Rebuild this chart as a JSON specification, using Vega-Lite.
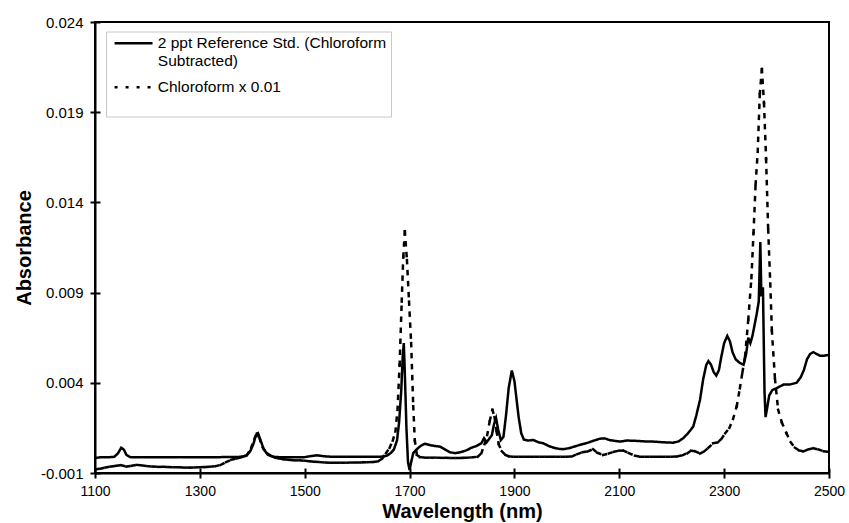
{
  "$schema": "https://vega.github.io/schema/vega-lite/v6.json",
  "autosize": "none",
  "width": 734,
  "height": 451,
  "padding": {"left": 95, "top": 22, "right": 20, "bottom": 50},
  "background": "white",
  "config": {
    "font": "Liberation Sans",
    "view": {"stroke": "black", "strokeWidth": 2},
    "axis": {
      "domainColor": "black", "domainWidth": 2,
      "tickColor": "black", "tickWidth": 2, "tickSize": 5,
      "labelColor": "black", "labelFont": "Liberation Sans",
      "titleColor": "black", "titleFont": "Liberation Sans",
      "grid": false
    }
  },
  "datasets": {
    "ref": [
      {"wl": 1100, "abs": -0.00017}, {"wl": 1110, "abs": -0.00013}, {"wl": 1125, "abs": -0.00013},
      {"wl": 1137, "abs": -0.0001}, {"wl": 1144, "abs": 0.0001}, {"wl": 1150, "abs": 0.0004},
      {"wl": 1155, "abs": 0.0003}, {"wl": 1160, "abs": 0.0}, {"wl": 1167, "abs": -0.00012},
      {"wl": 1180, "abs": -0.00013}, {"wl": 1220, "abs": -0.00013}, {"wl": 1260, "abs": -0.00012},
      {"wl": 1300, "abs": -0.00013}, {"wl": 1340, "abs": -0.00012}, {"wl": 1375, "abs": -0.00011},
      {"wl": 1388, "abs": -0.00005}, {"wl": 1396, "abs": 0.0002}, {"wl": 1402, "abs": 0.0006},
      {"wl": 1407, "abs": 0.0011}, {"wl": 1411, "abs": 0.0012}, {"wl": 1416, "abs": 0.0008},
      {"wl": 1422, "abs": 0.0003}, {"wl": 1430, "abs": 0.0}, {"wl": 1440, "abs": -0.0001},
      {"wl": 1455, "abs": -0.00013}, {"wl": 1480, "abs": -0.00013}, {"wl": 1500, "abs": -0.00012},
      {"wl": 1512, "abs": -0.00006}, {"wl": 1524, "abs": -0.00002}, {"wl": 1536, "abs": -0.00007},
      {"wl": 1550, "abs": -0.0001}, {"wl": 1580, "abs": -0.0001}, {"wl": 1620, "abs": -0.0001},
      {"wl": 1645, "abs": -0.0001}, {"wl": 1656, "abs": -0.00005}, {"wl": 1664, "abs": 0.0001},
      {"wl": 1670, "abs": 0.0003}, {"wl": 1676, "abs": 0.0008}, {"wl": 1680, "abs": 0.0018},
      {"wl": 1684, "abs": 0.0035}, {"wl": 1687, "abs": 0.0055}, {"wl": 1689, "abs": 0.0062},
      {"wl": 1691, "abs": 0.0045}, {"wl": 1694, "abs": 0.0015}, {"wl": 1697, "abs": -0.0004},
      {"wl": 1700, "abs": -0.00083}, {"wl": 1703, "abs": -0.0004}, {"wl": 1707, "abs": 0.0001},
      {"wl": 1713, "abs": 0.0003}, {"wl": 1721, "abs": 0.0005}, {"wl": 1729, "abs": 0.00062},
      {"wl": 1738, "abs": 0.00055}, {"wl": 1748, "abs": 0.0005}, {"wl": 1758, "abs": 0.00046},
      {"wl": 1768, "abs": 0.0003}, {"wl": 1777, "abs": 0.00015}, {"wl": 1787, "abs": 0.0001},
      {"wl": 1797, "abs": 0.00015}, {"wl": 1808, "abs": 0.00025}, {"wl": 1818, "abs": 0.0004},
      {"wl": 1828, "abs": 0.0005}, {"wl": 1837, "abs": 0.00065}, {"wl": 1842, "abs": 0.00093},
      {"wl": 1847, "abs": 0.0007}, {"wl": 1852, "abs": 0.0009}, {"wl": 1857, "abs": 0.0011},
      {"wl": 1861, "abs": 0.0017}, {"wl": 1865, "abs": 0.00204}, {"wl": 1869, "abs": 0.0014},
      {"wl": 1874, "abs": 0.00083}, {"wl": 1879, "abs": 0.001}, {"wl": 1884, "abs": 0.0022},
      {"wl": 1889, "abs": 0.0037}, {"wl": 1895, "abs": 0.00468}, {"wl": 1900, "abs": 0.0041},
      {"wl": 1904, "abs": 0.0031}, {"wl": 1908, "abs": 0.0021}, {"wl": 1913, "abs": 0.0012},
      {"wl": 1918, "abs": 0.00085}, {"wl": 1926, "abs": 0.0008}, {"wl": 1936, "abs": 0.00083},
      {"wl": 1946, "abs": 0.0007}, {"wl": 1955, "abs": 0.00065}, {"wl": 1965, "abs": 0.0005},
      {"wl": 1975, "abs": 0.0004}, {"wl": 1985, "abs": 0.00034}, {"wl": 1993, "abs": 0.00032},
      {"wl": 2005, "abs": 0.00038}, {"wl": 2018, "abs": 0.0005}, {"wl": 2030, "abs": 0.0006},
      {"wl": 2040, "abs": 0.00068}, {"wl": 2052, "abs": 0.0008}, {"wl": 2063, "abs": 0.0009},
      {"wl": 2072, "abs": 0.00092}, {"wl": 2082, "abs": 0.00082}, {"wl": 2092, "abs": 0.00078},
      {"wl": 2101, "abs": 0.00074}, {"wl": 2115, "abs": 0.0008}, {"wl": 2133, "abs": 0.00078},
      {"wl": 2150, "abs": 0.00075}, {"wl": 2165, "abs": 0.00074}, {"wl": 2185, "abs": 0.0007},
      {"wl": 2203, "abs": 0.00068}, {"wl": 2213, "abs": 0.00075}, {"wl": 2222, "abs": 0.00093},
      {"wl": 2231, "abs": 0.0012}, {"wl": 2241, "abs": 0.00157}, {"wl": 2247, "abs": 0.0022},
      {"wl": 2254, "abs": 0.00306}, {"wl": 2260, "abs": 0.0042}, {"wl": 2266, "abs": 0.005},
      {"wl": 2270, "abs": 0.0052}, {"wl": 2275, "abs": 0.005}, {"wl": 2280, "abs": 0.0046},
      {"wl": 2285, "abs": 0.0044}, {"wl": 2290, "abs": 0.0047}, {"wl": 2295, "abs": 0.0055},
      {"wl": 2300, "abs": 0.0062}, {"wl": 2306, "abs": 0.0066}, {"wl": 2311, "abs": 0.0063},
      {"wl": 2316, "abs": 0.0057}, {"wl": 2322, "abs": 0.0053}, {"wl": 2330, "abs": 0.0051},
      {"wl": 2337, "abs": 0.005}, {"wl": 2342, "abs": 0.0056}, {"wl": 2346, "abs": 0.0065},
      {"wl": 2350, "abs": 0.0062}, {"wl": 2354, "abs": 0.0066}, {"wl": 2358, "abs": 0.0072},
      {"wl": 2362, "abs": 0.0078}, {"wl": 2366, "abs": 0.0085}, {"wl": 2369, "abs": 0.0118},
      {"wl": 2371, "abs": 0.0088}, {"wl": 2374, "abs": 0.0093}, {"wl": 2377, "abs": 0.0035},
      {"wl": 2379, "abs": 0.0021}, {"wl": 2382, "abs": 0.0026}, {"wl": 2386, "abs": 0.0033},
      {"wl": 2392, "abs": 0.0036}, {"wl": 2400, "abs": 0.0037}, {"wl": 2413, "abs": 0.0039},
      {"wl": 2425, "abs": 0.0039}, {"wl": 2438, "abs": 0.004}, {"wl": 2446, "abs": 0.0043},
      {"wl": 2452, "abs": 0.0047}, {"wl": 2458, "abs": 0.0053}, {"wl": 2464, "abs": 0.0056},
      {"wl": 2470, "abs": 0.0057}, {"wl": 2476, "abs": 0.0056}, {"wl": 2483, "abs": 0.0055},
      {"wl": 2490, "abs": 0.0055}, {"wl": 2500, "abs": 0.00555}
    ],
    "chl": [
      {"wl": 1100, "abs": -0.0008}, {"wl": 1110, "abs": -0.00076}, {"wl": 1120, "abs": -0.0007},
      {"wl": 1130, "abs": -0.00064}, {"wl": 1140, "abs": -0.0006}, {"wl": 1150, "abs": -0.00057},
      {"wl": 1160, "abs": -0.00064}, {"wl": 1170, "abs": -0.0006}, {"wl": 1180, "abs": -0.00055},
      {"wl": 1190, "abs": -0.00058}, {"wl": 1200, "abs": -0.00062}, {"wl": 1210, "abs": -0.00064},
      {"wl": 1220, "abs": -0.00066}, {"wl": 1230, "abs": -0.00066}, {"wl": 1240, "abs": -0.00067},
      {"wl": 1250, "abs": -0.00068}, {"wl": 1260, "abs": -0.00068}, {"wl": 1270, "abs": -0.0007},
      {"wl": 1280, "abs": -0.0007}, {"wl": 1290, "abs": -0.00069}, {"wl": 1300, "abs": -0.00068},
      {"wl": 1310, "abs": -0.00067}, {"wl": 1320, "abs": -0.00065}, {"wl": 1330, "abs": -0.00062},
      {"wl": 1340, "abs": -0.00055}, {"wl": 1350, "abs": -0.0004}, {"wl": 1360, "abs": -0.00027},
      {"wl": 1370, "abs": -0.0002}, {"wl": 1380, "abs": -0.00012}, {"wl": 1390, "abs": 0.0},
      {"wl": 1398, "abs": 0.0004}, {"wl": 1404, "abs": 0.0009}, {"wl": 1409, "abs": 0.0012},
      {"wl": 1414, "abs": 0.0009}, {"wl": 1420, "abs": 0.0004}, {"wl": 1428, "abs": 0.0001},
      {"wl": 1436, "abs": -0.00005}, {"wl": 1444, "abs": -0.00015}, {"wl": 1452, "abs": -0.0002},
      {"wl": 1460, "abs": -0.00024}, {"wl": 1470, "abs": -0.00027}, {"wl": 1480, "abs": -0.0003},
      {"wl": 1490, "abs": -0.0003}, {"wl": 1500, "abs": -0.00032}, {"wl": 1510, "abs": -0.00035},
      {"wl": 1520, "abs": -0.00038}, {"wl": 1530, "abs": -0.0004}, {"wl": 1540, "abs": -0.00042},
      {"wl": 1550, "abs": -0.00043}, {"wl": 1560, "abs": -0.00043}, {"wl": 1570, "abs": -0.00043},
      {"wl": 1580, "abs": -0.00043}, {"wl": 1590, "abs": -0.00042}, {"wl": 1600, "abs": -0.00042},
      {"wl": 1610, "abs": -0.00041}, {"wl": 1620, "abs": -0.0004}, {"wl": 1630, "abs": -0.00039},
      {"wl": 1640, "abs": -0.00035}, {"wl": 1648, "abs": -0.0002}, {"wl": 1655, "abs": 0.0001},
      {"wl": 1662, "abs": 0.0004}, {"wl": 1668, "abs": 0.0008}, {"wl": 1673, "abs": 0.0013},
      {"wl": 1677, "abs": 0.0025}, {"wl": 1681, "abs": 0.005}, {"wl": 1685, "abs": 0.0085},
      {"wl": 1688, "abs": 0.011}, {"wl": 1691, "abs": 0.0124}, {"wl": 1695, "abs": 0.0108},
      {"wl": 1699, "abs": 0.0085}, {"wl": 1703, "abs": 0.0062}, {"wl": 1707, "abs": 0.0027},
      {"wl": 1710, "abs": 0.0008}, {"wl": 1714, "abs": 0.0}, {"wl": 1720, "abs": -0.00012},
      {"wl": 1730, "abs": -0.00015}, {"wl": 1740, "abs": -0.00015}, {"wl": 1750, "abs": -0.00015},
      {"wl": 1760, "abs": -0.00016}, {"wl": 1770, "abs": -0.00016}, {"wl": 1780, "abs": -0.00017},
      {"wl": 1790, "abs": -0.00017}, {"wl": 1800, "abs": -0.00016}, {"wl": 1810, "abs": -0.00015},
      {"wl": 1820, "abs": -0.00013}, {"wl": 1830, "abs": -0.0001}, {"wl": 1837, "abs": 0.0001},
      {"wl": 1843, "abs": 0.0006}, {"wl": 1848, "abs": 0.0011}, {"wl": 1853, "abs": 0.0019},
      {"wl": 1858, "abs": 0.0025}, {"wl": 1862, "abs": 0.0021}, {"wl": 1866, "abs": 0.0013},
      {"wl": 1870, "abs": 0.0006}, {"wl": 1876, "abs": 0.0002}, {"wl": 1883, "abs": 0.0},
      {"wl": 1890, "abs": -0.00008}, {"wl": 1900, "abs": -0.0001}, {"wl": 1910, "abs": -0.0001},
      {"wl": 1920, "abs": -0.0001}, {"wl": 1930, "abs": -0.0001}, {"wl": 1940, "abs": -0.0001},
      {"wl": 1950, "abs": -0.0001}, {"wl": 1960, "abs": -0.0001}, {"wl": 1970, "abs": -0.0001},
      {"wl": 1980, "abs": -0.0001}, {"wl": 1990, "abs": -0.0001}, {"wl": 2000, "abs": -0.0001},
      {"wl": 2010, "abs": -0.00008}, {"wl": 2020, "abs": 0.00005}, {"wl": 2030, "abs": 0.00015},
      {"wl": 2040, "abs": 0.0002}, {"wl": 2050, "abs": 0.00032}, {"wl": 2058, "abs": 0.00012},
      {"wl": 2069, "abs": 0.0}, {"wl": 2080, "abs": 0.00008}, {"wl": 2090, "abs": 0.00018},
      {"wl": 2100, "abs": 0.00024}, {"wl": 2108, "abs": 0.00024}, {"wl": 2118, "abs": 0.0001},
      {"wl": 2130, "abs": -0.00004}, {"wl": 2140, "abs": -0.0001}, {"wl": 2150, "abs": -0.0001},
      {"wl": 2160, "abs": -0.0001}, {"wl": 2170, "abs": -0.0001}, {"wl": 2180, "abs": -0.0001},
      {"wl": 2190, "abs": -0.0001}, {"wl": 2200, "abs": -0.0001}, {"wl": 2210, "abs": -0.00008},
      {"wl": 2220, "abs": -0.00002}, {"wl": 2230, "abs": 0.0001}, {"wl": 2237, "abs": 0.00024},
      {"wl": 2245, "abs": 0.0002}, {"wl": 2254, "abs": 0.00008}, {"wl": 2262, "abs": 0.0002},
      {"wl": 2270, "abs": 0.0004}, {"wl": 2279, "abs": 0.00065}, {"wl": 2288, "abs": 0.0007},
      {"wl": 2295, "abs": 0.0009}, {"wl": 2302, "abs": 0.0012}, {"wl": 2310, "abs": 0.0015},
      {"wl": 2317, "abs": 0.002}, {"wl": 2324, "abs": 0.0027}, {"wl": 2330, "abs": 0.0037},
      {"wl": 2335, "abs": 0.0046}, {"wl": 2340, "abs": 0.0055}, {"wl": 2346, "abs": 0.0075},
      {"wl": 2352, "abs": 0.0098}, {"wl": 2356, "abs": 0.0123}, {"wl": 2360, "abs": 0.015},
      {"wl": 2364, "abs": 0.0168}, {"wl": 2368, "abs": 0.02}, {"wl": 2372, "abs": 0.0214},
      {"wl": 2376, "abs": 0.0195}, {"wl": 2380, "abs": 0.0164}, {"wl": 2384, "abs": 0.0125},
      {"wl": 2388, "abs": 0.0095}, {"wl": 2391, "abs": 0.0069}, {"wl": 2397, "abs": 0.0042},
      {"wl": 2403, "abs": 0.0025}, {"wl": 2410, "abs": 0.0018}, {"wl": 2419, "abs": 0.0012},
      {"wl": 2427, "abs": 0.0007}, {"wl": 2435, "abs": 0.0004}, {"wl": 2443, "abs": 0.00025},
      {"wl": 2451, "abs": 0.0002}, {"wl": 2460, "abs": 0.0003}, {"wl": 2470, "abs": 0.00037},
      {"wl": 2480, "abs": 0.0003}, {"wl": 2490, "abs": 0.0002}, {"wl": 2500, "abs": 0.00018}
    ]
  },
  "layer": [
    {
      "data": {"name": "ref"},
      "mark": {"type": "line", "color": "black", "strokeWidth": 2.5, "clip": true},
      "encoding": {
        "x": {
          "field": "wl", "type": "quantitative",
          "scale": {"domain": [1100, 2500], "nice": false, "zero": false},
          "axis": {
            "title": "Wavelength (nm)", "titleFontSize": 20, "titleFontWeight": "bold",
            "titlePadding": 3, "labelFontSize": 14, "labelPadding": 6,
            "values": [1100, 1300, 1500, 1700, 1900, 2100, 2300, 2500], "format": "d",
            "labelFlush": false, "labelOverlap": false
          }
        },
        "y": {
          "field": "abs", "type": "quantitative",
          "scale": {"domain": [-0.001, 0.024], "nice": false, "zero": false},
          "axis": {
            "title": "Absorbance", "titleFontSize": 20, "titleFontWeight": "bold",
            "titlePadding": 6, "labelFontSize": 15, "labelPadding": 7,
            "values": [-0.001, 0.004, 0.009, 0.014, 0.019, 0.024], "format": ".3f",
            "labelExpr": "replace(datum.label, '\u2212', '-')",
            "labelFlush": false, "labelOverlap": false
          }
        },
        "strokeDash": {
          "datum": "2 ppt Reference Std. (Chloroform Subtracted)",
          "type": "nominal",
          "scale": {
            "domain": ["2 ppt Reference Std. (Chloroform Subtracted)", "Chloroform x 0.01"],
            "range": [[1, 0], [3, 8]]
          },
          "legend": {
            "title": " ", "titleOrient": "bottom", "titleFontSize": 12, "titlePadding": 6,
            "orient": "none", "legendX": 11, "legendY": 9.5,
            "symbolType": "M-4,0H4", "symbolSize": 90, "symbolOffset": 15.8,
            "symbolStrokeWidth": 2.5, "symbolStrokeColor": "black", "symbolFillColor": "transparent",
            "labelFontSize": 15.5, "labelColor": "black",
            "labelFont": "Liberation Sans", "labelLimit": 400, "labelOffset": 16.5,
            "labelExpr": "datum.label == 'Chloroform x 0.01' ? datum.label : ['2 ppt Reference Std. (Chloroform', 'Subtracted)']",
            "strokeColor": "#c8c8c8", "fillColor": "white", "padding": 4, "rowPadding": 10
          }
        }
      }
    },
    {
      "data": {"name": "chl"},
      "transform": [
        {"window": [{"op": "lead", "field": "wl", "as": "wl2"}, {"op": "lead", "field": "abs", "as": "abs2"}], "sort": [{"field": "wl"}]},
        {"filter": "datum.wl2 != null"}
      ],
      "mark": {"type": "rule", "color": "black", "strokeWidth": 2.5, "strokeCap": "square", "clip": true},
      "encoding": {
        "x": {
          "field": "wl", "type": "quantitative",
          "axis": {"orient": "bottom", "offset": -5, "labels": false, "domain": false, "title": null,
                   "values": [1100, 1300, 1500, 1700, 1900, 2100, 2300, 2500]}
        },
        "x2": {"field": "wl2"},
        "y": {
          "field": "abs", "type": "quantitative",
          "axis": {"orient": "left", "offset": -5, "labels": false, "domain": false, "title": null,
                   "values": [-0.001, 0.004, 0.009, 0.014, 0.019, 0.024]}
        },
        "y2": {"field": "abs2"},
        "strokeDash": {"datum": "Chloroform x 0.01", "type": "nominal"}
      }
    }
  ],
  "resolve": {"axis": {"x": "independent", "y": "independent"}}
}
